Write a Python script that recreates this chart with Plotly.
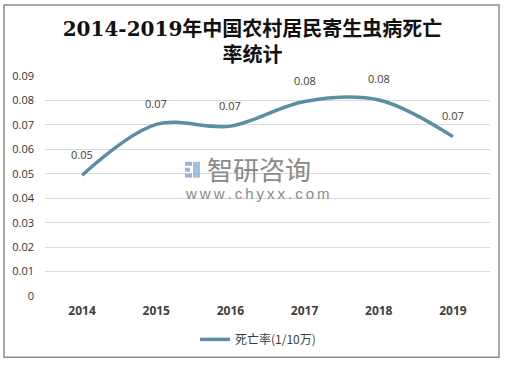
import plotly.graph_objects as go

years = ["2014", "2015", "2016", "2017", "2018", "2019"]
rates = [0.0494, 0.0702, 0.0695, 0.0796, 0.0802, 0.0652]
labels = ["0.05", "0.07", "0.07", "0.08", "0.08", "0.07"]
y_ticks = [0, 0.01, 0.02, 0.03, 0.04, 0.05, 0.06, 0.07, 0.08, 0.09]
y_tick_text = ["0", "0.01", "0.02", "0.03", "0.04", "0.05", "0.06", "0.07", "0.08", "0.09"]

line_color = "#5a8ea1"

fig = go.Figure()
fig.add_trace(go.Scatter(
    x=years, y=rates, mode="lines", name="死亡率(1/10万)",
    line=dict(color=line_color, width=3.5, shape="spline", smoothing=1.0),
))

# category axis annotations use serial index of category
for i, (y, t) in enumerate(zip(rates, labels)):
    fig.add_annotation(x=i, y=y, text=t, showarrow=False, yshift=21,
                       font=dict(size=11, color="#404040", family="Open Sans, Noto Sans CJK SC"))

W, H = 505, 366
L, R, T, B = 45, 15, 76, 67
pw, ph = W - L - R, H - T - B

def px(xp):
    return (xp - L) / pw

def py(yp):
    return (H - B - yp) / ph

# outer border
fig.add_shape(type="rect", xref="paper", yref="paper",
              x0=px(4), x1=px(499), y0=py(361), y1=py(4),
              line=dict(color="#8c8c8c", width=1.5), fillcolor="rgba(0,0,0,0)", layer="below")

# watermark logo blocks
logo = [
    (185, 163, 192, 167, "#8a9bc4"),
    (185, 169, 190, 173, "#8a9bc4"),
    (185, 175, 192, 179, "#8a9bc4"),
    (193, 163, 200, 179, "#7fb3de"),
]
for x0, y0, x1, y1, c in logo:
    fig.add_shape(type="rect", xref="paper", yref="paper",
                  x0=px(x0), x1=px(x1), y0=py(y1), y1=py(y0),
                  line=dict(width=0), fillcolor=c, opacity=0.8, layer="above")

fig.add_annotation(xref="paper", yref="paper", x=px(205), y=py(170), xanchor="left", yanchor="middle",
                   text="智研咨询", showarrow=False,
                   font=dict(size=26, color="#8a8a8a", family="Noto Sans CJK SC"))
fig.add_annotation(xref="paper", yref="paper", x=px(183), y=py(195), xanchor="left", yanchor="middle",
                   text="\u2009".join("www.chyxx.com"), showarrow=False,
                   font=dict(size=15, color="#8a8a8a", family="Liberation Sans"))

fig.update_layout(
    width=W, height=H,
    margin=dict(l=L, r=R, t=T, b=B),
    paper_bgcolor="white", plot_bgcolor="white",
    title=dict(text="2014-2019年中国农村居民寄生虫病死亡<br>率统计",
               x=0.5, xref="container", xanchor="center", y=1 - 36 / H, yanchor="top",
               font=dict(size=20, color="#111111", family="DejaVu Serif, Noto Sans CJK SC", weight=600),
               automargin=False),
    xaxis=dict(type="category", range=[-0.5, 5.5], showgrid=False, showline=False, zeroline=False,
               ticks="", tickfont=dict(size=12, color="#404040", family="Open Sans"),
               tickprefix="<b>", ticksuffix="</b>", ticklabelstandoff=6, automargin=False),
    yaxis=dict(range=[0, 0.09], tickvals=y_ticks, ticktext=y_tick_text,
               showgrid=True, gridcolor="#d9d9d9", gridwidth=1, zeroline=False,
               showline=False, ticks="", tickfont=dict(size=11, color="#333333", family="Open Sans"),
               ticklen=0, ticklabelstandoff=10, automargin=False),
    showlegend=True,
    legend=dict(orientation="h", x=px(258), xanchor="center", y=py(343), yanchor="middle",
                font=dict(size=12, color="#404040", family="Noto Sans CJK SC")),
)

fig.write_html("out.html", config={"displayModeBar": False},
               post_script="document.body.style.margin='0px';")
